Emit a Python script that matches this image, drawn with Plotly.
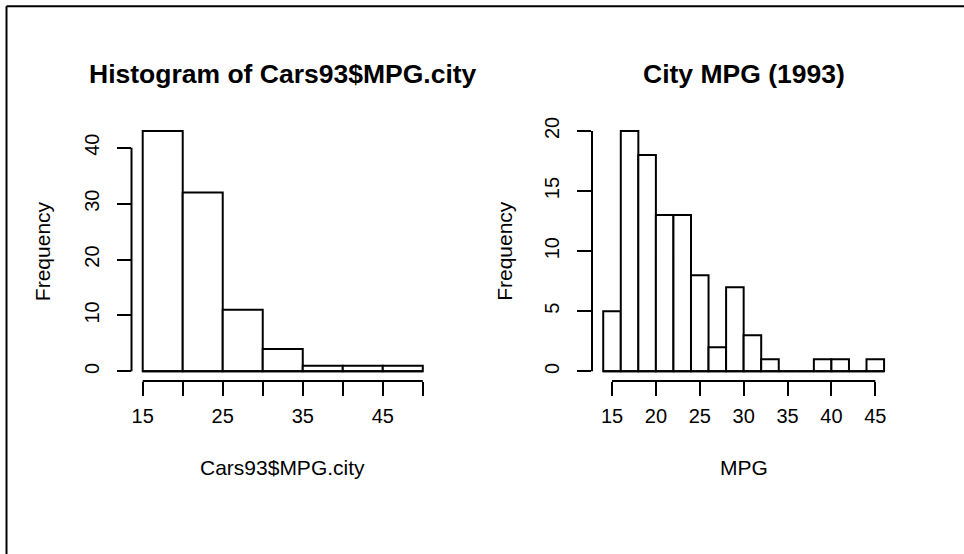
import plotly.graph_objects as go

# ---- data ----
left_edges = [15, 20, 25, 30, 35, 40, 45, 50]
left_counts = [43, 32, 11, 4, 1, 1, 1]
left_xticks = [15, 20, 25, 30, 35, 40, 45, 50]
left_xlabels = ["15", "", "25", "", "35", "", "45", ""]
left_yticks = [0, 10, 20, 30, 40]

right_edges = [14, 16, 18, 20, 22, 24, 26, 28, 30, 32, 34, 36, 38, 40, 42, 44, 46]
right_counts = [5, 20, 18, 13, 13, 8, 2, 7, 3, 1, 0, 0, 1, 1, 0, 1]
right_xticks = [15, 20, 25, 30, 35, 40, 45]
right_yticks = [0, 5, 10, 15, 20]

left_title = "Histogram of Cars93$MPG.city"
right_title = "City MPG (1993)"
left_xlabel = "Cars93$MPG.city"
right_xlabel = "MPG"
ylabel = "Frequency"

FONT = "Liberation Sans, Arial, Helvetica, sans-serif"
W, H = 964, 554
LW = 2


def ext(lo, hi):
    d = (hi - lo) * 0.04
    return [lo - d, hi + d]


def bars(edges, counts, xa, ya):
    centers = [(a + b) / 2 for a, b in zip(edges[:-1], edges[1:])]
    widths = [b - a for a, b in zip(edges[:-1], edges[1:])]
    return go.Bar(x=centers, y=counts, width=widths, xaxis=xa, yaxis=ya,
                  marker=dict(color="white", line=dict(color="black", width=LW)),
                  hoverinfo="skip", showlegend=False)


def baseline(edges, xa, ya):
    return go.Scatter(x=[edges[0], edges[-1]], y=[0, 0], mode="lines", xaxis=xa, yaxis=ya,
                      line=dict(color="black", width=LW), hoverinfo="skip", showlegend=False)


fig = go.Figure()
fig.add_trace(baseline(left_edges, "x", "y"))
fig.add_trace(bars(left_edges, left_counts, "x", "y"))
fig.add_trace(baseline(right_edges, "x2", "y2"))
fig.add_trace(bars(right_edges, right_counts, "x2", "y2"))

ydom = [(H - 379.7) / H, (H - 118.2) / H]
ldom = [131.5 / W, 434.0 / W]
rdom = [592.0 / W, 895.3 / W]

tickfont = dict(family=FONT, size=20, color="black")
common_x = dict(showgrid=False, zeroline=False, showline=False, ticks="outside",
                ticklen=14, tickwidth=LW, tickcolor="black", tickfont=tickfont,
                fixedrange=True, ticklabelstandoff=3)
common_y = dict(showgrid=False, zeroline=False, showline=False, ticks="outside",
                ticklen=14, tickwidth=LW, tickcolor="black", tickfont=tickfont,
                tickangle=-90, fixedrange=True, ticklabelstandoff=10)

lyr = ext(0, max(left_counts))
ryr = ext(0, max(right_counts))

fig.update_layout(
    width=W, height=H, margin=dict(l=0, r=0, t=0, b=0),
    paper_bgcolor="white", plot_bgcolor="white", bargap=0,
    xaxis=dict(domain=ldom, anchor="y", range=ext(left_edges[0], left_edges[-1]),
               tickvals=left_xticks, ticktext=left_xlabels, **common_x),
    yaxis=dict(domain=ydom, anchor="x", range=lyr, tickvals=left_yticks, **common_y),
    xaxis2=dict(domain=rdom, anchor="y2", range=ext(right_edges[0], right_edges[-1]),
                tickvals=right_xticks, **common_x),
    yaxis2=dict(domain=ydom, anchor="x2", range=ryr, tickvals=right_yticks, **common_y),
)

shapes = []
for xa, ya, xt, yt in [("x", "y", left_xticks, left_yticks), ("x2", "y2", right_xticks, right_yticks)]:
    shapes.append(dict(type="line", xref=xa, yref=ya + " domain", x0=xt[0], x1=xt[-1], y0=0, y1=0,
                       line=dict(color="black", width=LW)))
    shapes.append(dict(type="line", xref=xa + " domain", yref=ya, x0=0, x1=0, y0=yt[0], y1=yt[-1],
                       line=dict(color="black", width=LW)))
# outer frame (left and top edges)
shapes.append(dict(type="line", xref="paper", yref="paper", x0=6.5 / W, x1=6.5 / W, y0=-0.1, y1=(H - 2.3) / H,
                   line=dict(color="black", width=LW)))
shapes.append(dict(type="line", xref="paper", yref="paper", x0=6.5 / W, x1=1.1, y0=(H - 2.3) / H, y1=(H - 2.3) / H,
                   line=dict(color="black", width=LW)))
fig.update_layout(shapes=shapes)

ann = []
for title, cx in [(left_title, (ldom[0] + ldom[1]) / 2), (right_title, (rdom[0] + rdom[1]) / 2)]:
    ann.append(dict(text="<b>" + title + "</b>", x=cx, y=(H - 71) / H, xref="paper", yref="paper",
                    xanchor="center", yanchor="middle", showarrow=False,
                    font=dict(family=FONT, size=26.5, color="black")))
for lab, cx in [(left_xlabel, (ldom[0] + ldom[1]) / 2), (right_xlabel, (rdom[0] + rdom[1]) / 2)]:
    ann.append(dict(text=lab, x=cx, y=(H - 467) / H, xref="paper", yref="paper",
                    xanchor="center", yanchor="middle", showarrow=False,
                    font=dict(family=FONT, size=21, color="black")))
for fx in [42 / W, 503.7 / W]:
    ann.append(dict(text=ylabel, x=fx, y=(ydom[0] + ydom[1]) / 2, xref="paper", yref="paper",
                    xanchor="center", yanchor="middle", showarrow=False, textangle=-90,
                    font=dict(family=FONT, size=21, color="black")))
fig.update_layout(annotations=ann)

fig.write_html("out.html", config={"displayModeBar": False, "staticPlot": True},
               post_script="document.body.style.margin='0';document.body.style.overflow='hidden';")
